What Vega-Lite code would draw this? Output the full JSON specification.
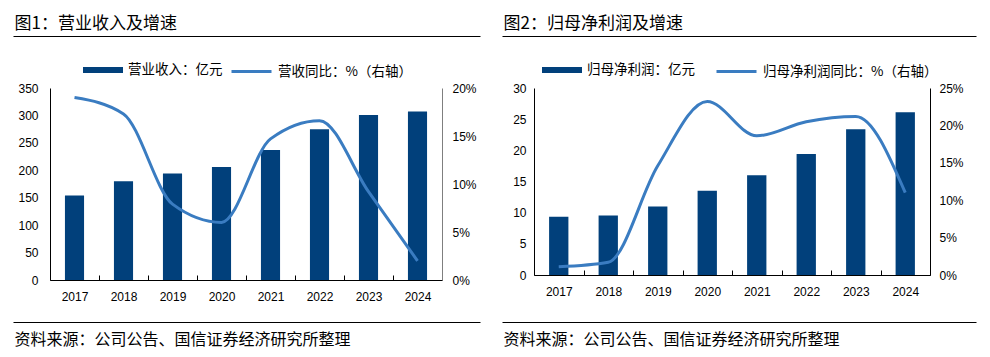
{
  "$schema": "https://vega.github.io/schema/vega-lite/v6.json",
  "padding": {"left": 13, "top": 14, "right": 5, "bottom": 5},
  "background": "#ffffff",
  "config": {
    "view": {"stroke": null},
    "font": "Liberation Sans",
    "axis": {"labelFont": "Liberation Sans", "labelFontSize": 12, "labelColor": "#000000", "domainColor": "#000000", "tickColor": "#000000", "grid": false},
    "legend": {"labelFont": "Noto Sans CJK SC", "labelFontSize": 13.5, "labelColor": "#000000", "labelLimit": 400}
  },
  "bounds": "full",
  "spacing": -15,
  "hconcat": [
    {
      "bounds": "flush",
      "spacing": 0,
      "vconcat": [
        {
          "width": 392,
          "height": 52,
          "data": {"values": [{"v": 0}, {"v": 1}]},
          "mark": {"type": "text", "text": ""},
          "encoding": {
            "x": {"field": "v", "type": "quantitative", "scale": {"domain": [0, 1], "range": [-37, 430]},
              "axis": {"orient": "top", "domain": true, "domainColor": "#000000", "domainWidth": 1.2, "ticks": false, "labels": false, "grid": false,
                "title": "图1：营业收入及增速", "titleX": -36, "titleY": -8, "titleAlign": "left", "titleAnchor": "start", "titleBaseline": "alphabetic",
                "titleFont": "Noto Sans CJK SC", "titleFontSize": 17, "titleFontWeight": "normal", "titleColor": "#000000"}}
          }
        },
        {
          "width": 392,
          "height": 192,
          "data": {"values": [
            {"year": "2017", "value": 154, "growth": 19.0},
            {"year": "2018", "value": 180, "growth": 17.3},
            {"year": "2019", "value": 194, "growth": 7.9},
            {"year": "2020", "value": 206, "growth": 6.0},
            {"year": "2021", "value": 237, "growth": 14.7},
            {"year": "2022", "value": 275, "growth": 16.6},
            {"year": "2023", "value": 301, "growth": 9.2},
            {"year": "2024", "value": 307, "growth": 2.0}
          ]},
          "encoding": {
            "x": {"field": "year", "type": "ordinal", "scale": {"paddingInner": 0, "paddingOuter": 0},
              "axis": {"title": null, "labelAngle": 0, "ticks": true, "tickBand": "extent", "tickSize": -5, "labelPadding": 16, "domainWidth": 1}}
          },
          "layer": [
            {
              "mark": {"type": "bar", "width": {"band": 0.39}, "color": "#01407B"},
              "encoding": {
                "y": {"field": "value", "type": "quantitative", "scale": {"domain": [0, 350]},
                  "axis": {"orient": "left", "title": null, "values": [0, 50, 100, 150, 200, 250, 300, 350], "ticks": false, "labelPadding": 12, "domainWidth": 1}},
                "fill": {"datum": "营业收入：亿元", "scale": {"range": ["#01407B"]},
                  "legend": {"orient": "none", "legendX": 33, "legendY": -38, "title": null, "symbolType": "M-1,-0.15L1,-0.15L1,0.15L-1,0.15Z", "symbolSize": 1600, "symbolStrokeWidth": 0, "labelOffset": 5}}
              }
            },
            {
              "mark": {"type": "line", "interpolate": "monotone", "strokeWidth": 3, "color": "#3A7CC1"},
              "encoding": {
                "y": {"field": "growth", "type": "quantitative", "scale": {"domain": [0, 20]},
                  "axis": {"orient": "right", "title": null, "values": [0, 5, 10, 15, 20], "labelExpr": "datum.value + '%'", "ticks": false, "labelPadding": 10, "domainWidth": 1, "domainColor": "#7f7f7f"}},
                "stroke": {"datum": "营收同比：%（右轴）", "scale": {"range": ["#3A7CC1"]},
                  "legend": {"orient": "none", "legendX": 180, "legendY": -38, "title": null, "symbolType": "stroke", "symbolSize": 1600, "symbolStrokeWidth": 3, "labelOffset": 5}}
              }
            }
          ],
          "resolve": {"scale": {"y": "independent"}}
        },
        {
          "width": 392,
          "height": 42,
          "data": {"values": [{"v": 0}, {"v": 1}]},
          "mark": {"type": "text", "text": ""},
          "encoding": {
            "x": {"field": "v", "type": "quantitative", "scale": {"domain": [0, 1], "range": [-37, 430]},
              "axis": {"orient": "bottom", "domain": true, "domainColor": "#000000", "domainWidth": 1.2, "ticks": false, "labels": false, "grid": false,
                "title": "资料来源：公司公告、国信证券经济研究所整理", "titleX": -36, "titleY": 22, "titleAlign": "left", "titleAnchor": "start", "titleBaseline": "alphabetic",
                "titleFont": "Noto Sans CJK SC", "titleFontSize": 16, "titleFontWeight": "normal", "titleColor": "#000000"}}
          }
        }
      ],
      "resolve": {"scale": {"x": "independent", "y": "independent", "fill": "independent", "stroke": "independent"}, "legend": {"fill": "independent", "stroke": "independent"}}
    },
    {
      "bounds": "flush",
      "spacing": 0,
      "vconcat": [
        {
          "width": 396,
          "height": 52,
          "data": {"values": [{"v": 0}, {"v": 1}]},
          "mark": {"type": "text", "text": ""},
          "encoding": {
            "x": {"field": "v", "type": "quantitative", "scale": {"domain": [0, 1], "range": [-32, 442]},
              "axis": {"orient": "top", "domain": true, "domainColor": "#000000", "domainWidth": 1.2, "ticks": false, "labels": false, "grid": false,
                "title": "图2：归母净利润及增速", "titleX": -31, "titleY": -8, "titleAlign": "left", "titleAnchor": "start", "titleBaseline": "alphabetic",
                "titleFont": "Noto Sans CJK SC", "titleFontSize": 17, "titleFontWeight": "normal", "titleColor": "#000000"}}
          }
        },
        {
          "width": 396,
          "height": 187,
          "data": {"values": [
            {"year": "2017", "value": 9.35, "growth": 1.1},
            {"year": "2018", "value": 9.56, "growth": 1.7},
            {"year": "2019", "value": 11.0, "growth": 14.6},
            {"year": "2020", "value": 13.5, "growth": 23.2},
            {"year": "2021", "value": 16.0, "growth": 18.6},
            {"year": "2022", "value": 19.4, "growth": 20.5},
            {"year": "2023", "value": 23.4, "growth": 21.2},
            {"year": "2024", "value": 26.1, "growth": 11.0}
          ]},
          "encoding": {
            "x": {"field": "year", "type": "ordinal", "scale": {"paddingInner": 0, "paddingOuter": 0},
              "axis": {"title": null, "labelAngle": 0, "ticks": true, "tickBand": "extent", "tickSize": -5, "labelPadding": 16, "domainWidth": 1}}
          },
          "layer": [
            {
              "mark": {"type": "bar", "width": {"band": 0.39}, "color": "#01407B"},
              "encoding": {
                "y": {"field": "value", "type": "quantitative", "scale": {"domain": [0, 30]},
                  "axis": {"orient": "left", "title": null, "values": [0, 5, 10, 15, 20, 25, 30], "ticks": false, "labelPadding": 8, "domainWidth": 1}},
                "fill": {"datum": "归母净利润：亿元", "scale": {"range": ["#01407B"]},
                  "legend": {"orient": "none", "legendX": 8, "legendY": -38, "title": null, "symbolType": "M-1,-0.15L1,-0.15L1,0.15L-1,0.15Z", "symbolSize": 1600, "symbolStrokeWidth": 0, "labelOffset": 5}}
              }
            },
            {
              "mark": {"type": "line", "interpolate": "monotone", "strokeWidth": 3, "color": "#3A7CC1"},
              "encoding": {
                "y": {"field": "growth", "type": "quantitative", "scale": {"domain": [0, 25]},
                  "axis": {"orient": "right", "title": null, "values": [0, 5, 10, 15, 20, 25], "labelExpr": "datum.value + '%'", "ticks": false, "labelPadding": 9, "domainWidth": 1}},
                "stroke": {"datum": "归母净利润同比：%（右轴）", "scale": {"range": ["#3A7CC1"]},
                  "legend": {"orient": "none", "legendX": 181, "legendY": -38, "title": null, "symbolType": "stroke", "symbolSize": 1600, "symbolStrokeWidth": 3, "labelOffset": 5}}
              }
            }
          ],
          "resolve": {"scale": {"y": "independent"}}
        },
        {
          "width": 396,
          "height": 47,
          "data": {"values": [{"v": 0}, {"v": 1}]},
          "mark": {"type": "text", "text": ""},
          "encoding": {
            "x": {"field": "v", "type": "quantitative", "scale": {"domain": [0, 1], "range": [-32, 442]},
              "axis": {"orient": "bottom", "domain": true, "domainColor": "#000000", "domainWidth": 1.2, "ticks": false, "labels": false, "grid": false,
                "title": "资料来源：公司公告、国信证券经济研究所整理", "titleX": -31, "titleY": 22, "titleAlign": "left", "titleAnchor": "start", "titleBaseline": "alphabetic",
                "titleFont": "Noto Sans CJK SC", "titleFontSize": 16, "titleFontWeight": "normal", "titleColor": "#000000"}}
          }
        }
      ],
      "resolve": {"scale": {"x": "independent", "y": "independent", "fill": "independent", "stroke": "independent"}, "legend": {"fill": "independent", "stroke": "independent"}}
    }
  ],
  "resolve": {"scale": {"x": "independent", "y": "independent", "fill": "independent", "stroke": "independent"}, "legend": {"fill": "independent", "stroke": "independent"}}
}
